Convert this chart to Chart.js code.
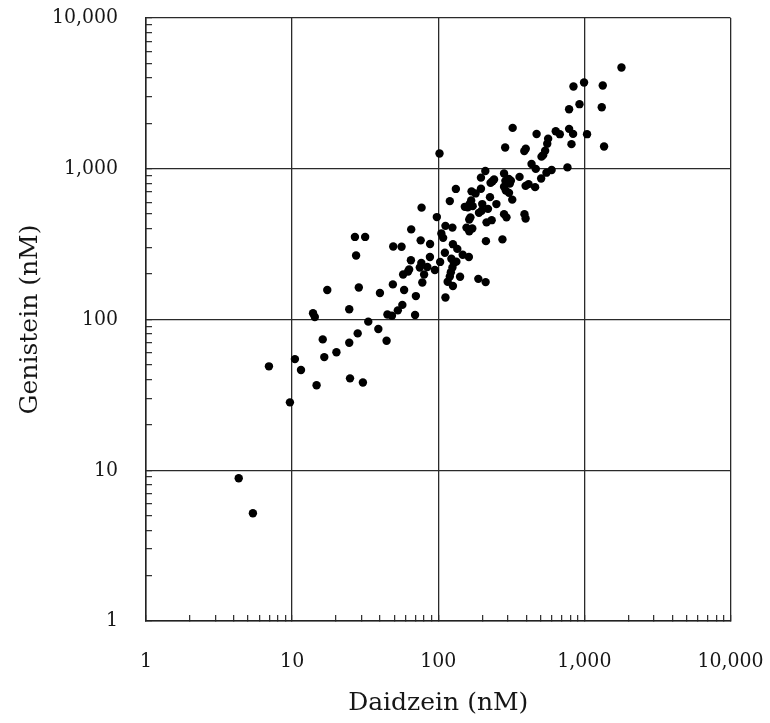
<!DOCTYPE html>
<html>
<head>
<meta charset="utf-8">
<script src="https://cdn.jsdelivr.net/npm/chart.js@4"></script>
<style>
  html, body { margin: 0; background: #fff; }
  #wrap { width: 770px; height: 723px; }
</style>
</head>
<body>
<div id="wrap"><canvas id="chart" width="770" height="723"></canvas></div>
<script>
// Daidzein vs genistein (nM), one entry per subject
const daidzein = [
  4.31, 5.39, 6.94, 9.66, 10.45, 11.5, 14.7, 13.9, 14.3, 16.2,
  16.6, 17.4, 20.1, 24.6, 24.6, 24.9, 26.9, 31.6, 27.4, 28.1,
  28.6, 30.5, 33.2, 38.9, 39.9, 44.9, 44.3, 48.2, 49.2, 48.9,
  52.9, 56.1, 56.8, 57.5, 58.4, 62.2, 63.2, 65.0, 65.3, 69.4,
  70.3, 74.8, 75.8, 76.9, 76.6, 77.8, 80.0, 84.2, 87.9, 87.7,
  94.8, 97.8, 102, 103, 105, 108, 111, 112, 112, 116,
  120, 120, 122, 123, 125, 126, 128, 126, 132, 133,
  125, 135, 141, 147, 162, 152, 156, 163, 171, 159,
  164, 168, 172, 163, 166, 169, 180, 188, 190, 198,
  196, 196, 200, 210, 211, 212, 214, 232, 219, 226,
  228, 235, 241, 250, 275, 282, 282, 282, 287, 288,
  290, 293, 304, 305, 309, 314, 321, 323, 360, 388,
  397, 389, 396, 396, 415, 435, 460, 465, 471, 506,
  509, 522, 539, 557, 565, 550, 597, 637, 679, 766,
  786, 786, 816, 837, 842, 926, 995, 1043, 1315, 1336,
  1364, 1794
];
const genistein = [
  8.84, 5.18, 48.9, 28.2, 54.6, 46.2, 36.6, 110, 104, 73.8,
  56.3, 157, 60.6, 117, 70.1, 40.7, 353, 353, 266, 80.9,
  163, 38.2, 96.8, 86.4, 150, 108, 72.3, 106, 305, 171,
  115, 304, 125, 199, 157, 208, 215, 247, 396, 107,
  143, 221, 335, 552, 237, 176, 199, 223, 317, 260,
  213, 478, 1262, 241, 372, 348, 277, 140, 418, 178,
  610, 193, 206, 253, 407, 316, 237, 167, 735, 242,
  221, 294, 192, 269, 260, 559, 407, 385, 402, 556,
  583, 616, 565, 461, 476, 708, 686, 186, 510, 526,
  736, 873, 583, 967, 177, 331, 441, 456, 542, 648,
  806, 827, 849, 583, 340, 931, 759, 500, 1384, 831,
  716, 476, 857, 692, 799, 834, 624, 1867, 883, 1309,
  1359, 500, 468, 770, 791, 1076, 755, 998, 1702, 862,
  1203, 1231, 1318, 1467, 1584, 942, 982, 1775, 1696, 1021,
  1839, 2484, 1456, 1703, 3514, 2682, 3735, 1696, 2561, 3566,
  1406, 4697
];

// axis ticks
const decades = [1, 10, 100, 1000, 10000];
const decadeLabels = ['1', '10', '100', '1,000', '10,000'];
const minorSteps = [2, 3, 4, 5, 6, 7, 8, 9];

function logTicks() {
  const t = [];
  decades.forEach((d, i) => {
    t.push({ value: d, major: true });
    if (i < decades.length - 1) minorSteps.forEach(m => t.push({ value: d * m, major: false }));
  });
  return t;
}

function tickLabel(value) {
  const i = decades.indexOf(value);
  return i >= 0 ? decadeLabels[i] : '';
}

const points = daidzein.map((x, i) => ({ x: x, y: genistein[i] }));

const serif = 'DejaVu Serif';
const tickFont = "'DejaVu Serif Condensed', 'DejaVu Serif'";
const ink = '#161616';

const gridOpts = {
  color: ctx => (ctx.tick && ctx.tick.major) ? '#2a2a2a' : 'rgba(0,0,0,0)',
  lineWidth: 1.3,
  tickColor: '#2a2a2a',
  tickWidth: 1.2,
  tickLength: -6
};

new Chart(document.getElementById('chart'), {
  type: 'scatter',
  data: {
    datasets: [{
      data: points,
      backgroundColor: '#000',
      borderColor: '#000',
      pointRadius: 4.2,
      pointHoverRadius: 4.2,
      borderWidth: 0
    }]
  },
  options: {
    responsive: false,
    animation: false,
    layout: { padding: { top: 18, right: 39.5, left: 0, bottom: 0 } },
    plugins: { legend: { display: false }, tooltip: { enabled: false } },
    scales: {
      x: {
        type: 'logarithmic',
        min: 1,
        max: 10000,
        afterBuildTicks: scale => { scale.ticks = logTicks(); },
        afterFit: scale => {
          scale.height = 102;
          scale.paddingLeft = 0;
          scale.paddingRight = 0;
        },
        grid: gridOpts,
        border: { display: true, color: '#222', width: 1.5 },
        ticks: {
          autoSkip: false,
          maxRotation: 0,
          padding: 34,
          color: ink,
          font: { family: tickFont, size: 21 },
          callback: v => tickLabel(v)
        },
        title: {
          display: true,
          text: 'Daidzein (nM)',
          color: ink,
          font: { family: serif, size: 25 },
          padding: { top: 0, bottom: 5 }
        }
      },
      y: {
        type: 'logarithmic',
        min: 1,
        max: 10000,
        afterBuildTicks: scale => { scale.ticks = logTicks(); },
        afterFit: scale => {
          scale.width = 146;
          scale.paddingTop = 0;
          scale.paddingBottom = 0;
        },
        grid: gridOpts,
        border: { display: true, color: '#222', width: 1.5 },
        ticks: {
          autoSkip: false,
          padding: 34,
          color: ink,
          font: { family: tickFont, size: 21 },
          callback: v => tickLabel(v)
        },
        title: {
          display: true,
          text: 'Genistein (nM)',
          color: ink,
          font: { family: serif, size: 25 },
          padding: { top: 15, bottom: 0 }
        }
      }
    }
  }
});
</script>
</body>
</html>
